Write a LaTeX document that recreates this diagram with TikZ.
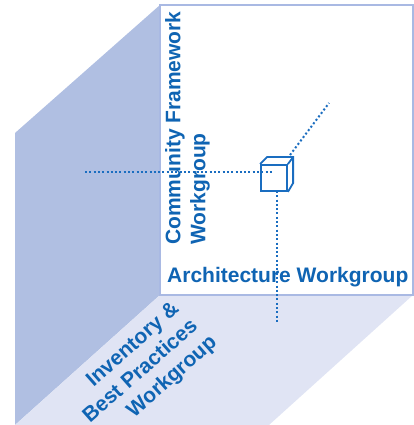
\documentclass[tikz,border=0pt]{standalone}
\usepackage{fontspec}
\setmainfont{Liberation Sans}
\begin{document}
\begin{tikzpicture}[x=1pt,y=1pt,
  wallshade/.style={fill=wallblue,draw=none},
  floorshade/.style={fill=floorblue,draw=none},
  backface/.style={fill=white,draw=edgeblue,line width=1.5pt},
  label/.style={text=textblue,font=\fontsize{21}{25}\selectfont\bfseries,inner sep=0pt},
  axisline/.style={draw=lineblue,line width=2pt,dash pattern=on 2pt off 2.3pt},
  cubeline/.style={draw=lineblue,line width=1.8pt,line join=miter}]
\definecolor{wallblue}{HTML}{B0BFE2}
\definecolor{floorblue}{HTML}{E0E4F4}
\definecolor{edgeblue}{HTML}{A9B9E3}
\definecolor{textblue}{HTML}{0F64B3}
\definecolor{lineblue}{HTML}{1A6DC0}
\useasboundingbox (0,0) rectangle (414,425);

% left wall and floor of the open box
\fill[wallshade] (160,420) -- (15,292) -- (15,0) -- (160,130) -- cycle;
\fill[floorshade] (160,130) -- (413,130) -- (269,0) -- (15,0) -- cycle;
% back wall
\draw[backface] (160,130) rectangle (413,420);

% small cube at the origin of the three axes
\node[cubeline,draw,minimum width=26pt,minimum height=26pt,inner sep=0pt] (cube) at (274,247) {};
\draw[cubeline] (cube.north west) -- ++(7,7) -- ++(26,0) coordinate (cubeback) -- ++(0,-26) -- (cube.south east);
\draw[cubeline] (cube.north east) -- (cubeback);

% dotted axes
\coordinate (axisW) at (85,253);
\coordinate (axisWend) at (273,253);
\coordinate (axisS) at (277,101);
\coordinate (axisSstart) at (277,234);
\coordinate (axisNE) at (329,322);
\coordinate (axisNEstart) at (290,270);
\draw[axisline] (axisW) -- (axisWend);
\draw[axisline] (axisSstart) -- (axisS);
\draw[axisline] (axisNEstart) -- (axisNE);

% workgroup labels
\node[label,rotate=90,anchor=north west,align=left] (community) at (165,180) {Community Framework\\Workgroup};
\node[label,anchor=base west] (architecture) at (167,142) {Architecture Workgroup};
\node[label,rotate=41.5,align=center] (inventory) at (141,53)
  {\hspace*{24pt}Inventory \&\\Best Practices\\\hspace*{40pt}Workgroup};
\end{tikzpicture}
\end{document}
